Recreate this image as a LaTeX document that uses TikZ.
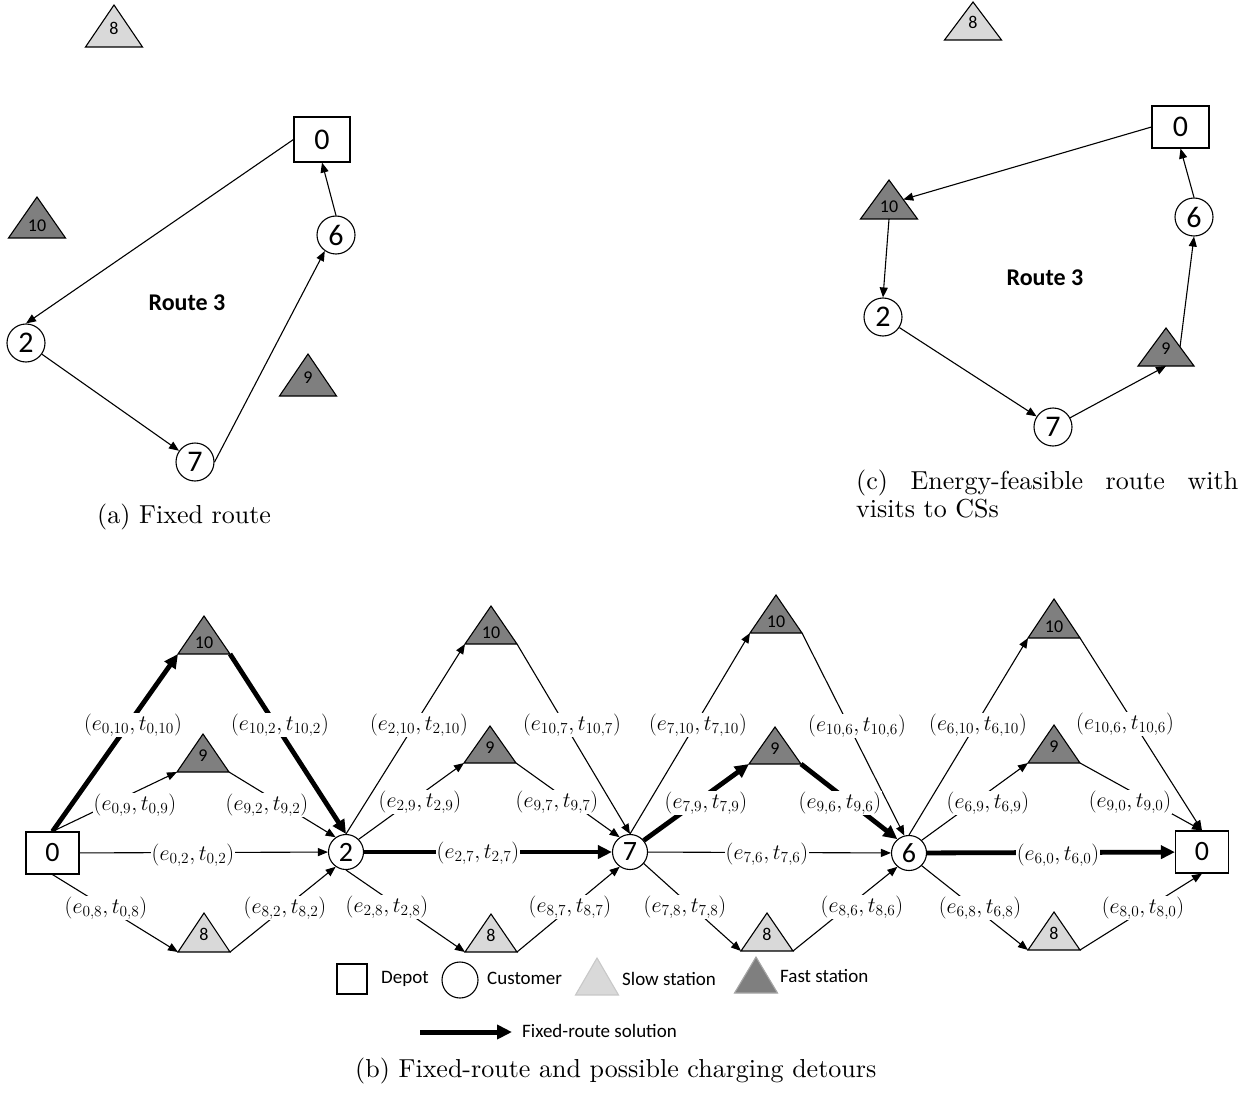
\RequirePackage{fix-cm}
\documentclass[tikz,border=0pt]{standalone}
\usepackage{fontspec}
\newfontfamily\calib{Carlito}
\newfontfamily\capfont{lmroman10-regular.otf}
\usetikzlibrary{calc,arrows.meta}
\definecolor{lightg}{HTML}{D9D9D9}
\definecolor{darkg}{HTML}{7F7F7F}
\definecolor{lightedge}{HTML}{C8C8C8}
\definecolor{darkedge}{HTML}{A6A6A6}
\newcommand\trishape[6]{%
  \node[trihold, minimum width=#5pt, minimum height={#4-#3}] (#1) at (#2,{(#3+#4)/2}) {};
  \filldraw[line width=1.1pt, #6] (#1.south west) -- (#1.north) -- (#1.south east) -- cycle;}
\newcommand\tri[8]{\trishape{#1}{#2}{#3}{#4}{#5}{fill=#6}%
  \node[trilbl] (#1t) at ($(#1.south)!#8!(#1.north)$) {#7};}
\begin{document}
\begin{tikzpicture}[x=1pt,y=-1pt,
  trihold/.style={inner sep=0pt, outer sep=0pt},
  trilbl/.style={inner sep=0pt, font=\calib\fontsize{18}{18}\selectfont},
  depotA/.style={draw, line width=1.1pt, fill=white, minimum width=56pt, minimum height=45pt, inner sep=0pt, font=\calib\fontsize{30}{30}\selectfont},
  depotC/.style={depotA, minimum width=57pt, minimum height=42pt},
  custA/.style={circle, draw, line width=1.1pt, fill=white, minimum size=38pt, inner sep=0pt, font=\calib\fontsize{30}{30}\selectfont},
  depotB/.style={draw, line width=1.1pt, fill=white, minimum width=53pt, minimum height=42pt, inner sep=0pt, font=\calib\fontsize{28}{28}\selectfont},
  custB/.style={circle, draw, line width=1.1pt, fill=white, minimum size=35pt, inner sep=0pt, font=\calib\fontsize{28}{28}\selectfont},
  arr/.style={line width=1.1pt, -{Triangle[length=10pt,width=8pt]}},
  thk/.style={line width=4.8pt, -{Triangle[length=14pt,width=13pt]}},
  lbl/.style={fill=white, inner sep=1pt, font=\fontsize{22}{25}\selectfont},
  route/.style={font=\calib\bfseries\fontsize{24}{24}\selectfont},
  leg/.style={font=\calib\fontsize{19}{19}\selectfont, anchor=west, inner sep=0pt},
  captext/.style={font=\capfont\fontsize{26}{28}\selectfont, inner sep=0pt}]
\useasboundingbox (0,0) rectangle (1257,1099);

% ---------- panel (a)
\node[depotA] (a0) at (322,139.5) {0};
\node[custA] (a6) at (336,235) {6};
\node[custA] (a2) at (26,343) {2};
\node[custA] (a7) at (195,462) {7};
\tri{a8}{114}{5}{47}{57}{lightg}{8}{0.45}
\tri{a10}{37}{197}{238}{57}{darkg}{10}{0.29}
\tri{a9}{308}{354}{396}{57}{darkg}{9}{0.43}
\node[route] (ar) at (187,303) {Route 3};
\draw[arr] (a0.west) -- (a2.north);
\draw[arr] (a2) -- (a7);
\draw[arr] (a7.east) -- (a6.235);
\draw[arr] (a6.north) -- (a0.south);
\node[captext, anchor=west] (capa) at (97,517) {(a) Fixed route};

% ---------- panel (c)
\node[depotC] (c0) at (1180.5,127) {0};
\node[custA] (c6) at (1194,217) {6};
\node[custA] (c2) at (883,317) {2};
\node[custA] (c7) at (1053,427) {7};
\tri{c8}{973}{2}{40}{57}{lightg}{8}{0.45}
\tri{c10}{889}{180}{219}{57}{darkg}{10}{0.31}
\tri{c9}{1166}{328}{366}{56}{darkg}{9}{0.45}
\node[route] (cr) at (1045,278) {Route 3};
\draw[arr] (c0.west) -- ($(c10.north)!0.5!(c10.south east)$);
\draw[arr] (c10.south) -- (c2.north);
\draw[arr] (c2) -- (c7);
\draw[arr] (c7) -- (c9.south);
\draw[arr] ($(c9.north)!0.5!(c9.south east)$) -- (c6.south);
\draw[arr] (c6.north) -- (c0.south);
\node[captext, text width=382pt, align=justify, anchor=north west] (capc) at (856,470)
  {(c) Energy-feasible route with\linebreak visits to CSs};

% ---------- panel (b)
\node[depotB] (b0L) at (52.5,853) {0};
\node[custB] (b2) at (346,852) {2};
\node[custB] (b7) at (630,852) {7};
\node[custB] (b6) at (909,853) {6};
\node[depotB] (b0R) at (1202,852) {0};

\tri{s1t10}{204}{616}{654}{52}{darkg}{10}{0.29}
\tri{s1t9}{203}{734}{772}{52}{darkg}{9}{0.42}
\tri{s1t8}{204}{913}{952}{52}{lightg}{8}{0.44}
\tri{s2t10}{491}{606}{644}{52}{darkg}{10}{0.29}
\tri{s2t9}{490}{726}{763}{52}{darkg}{9}{0.42}
\tri{s2t8}{491}{914}{952}{52}{lightg}{8}{0.44}
\tri{s3t10}{776}{595}{633}{52}{darkg}{10}{0.29}
\tri{s3t9}{775}{727}{764}{52}{darkg}{9}{0.42}
\tri{s3t8}{767}{913}{951}{52}{lightg}{8}{0.44}
\tri{s4t10}{1054}{599}{638}{52}{darkg}{10}{0.29}
\tri{s4t9}{1054}{725}{763}{52}{darkg}{9}{0.42}
\tri{s4t8}{1054}{912}{950}{52}{lightg}{8}{0.44}

% segment 1
\draw[thk] (b0L.north) -- (s1t10.south west);
\draw[thk] (s1t10.south east) -- (b2.north);
\draw[arr] (b0L.north) -- (s1t9.south west);
\draw[arr] (s1t9.south east) -- (b2.125);
\draw[arr] (b0L) -- (b2);
\draw[arr] (b0L.south) -- (s1t8.south west);
\draw[arr] (s1t8.south east) -- (b2.235);
% segment 2
\draw[arr] (b2.north) -- (s2t10.south west);
\draw[arr] (s2t10.south east) -- (b7.north);
\draw[arr] (b2.45) -- (s2t9.south west);
\draw[arr] (s2t9.south east) -- (b7.125);
\draw[thk] (b2) -- (b7);
\draw[arr] (b2.south) -- (s2t8.south west);
\draw[arr] (s2t8.south east) -- (b7.235);
% segment 3
\draw[arr] (b7.north) -- (s3t10.south west);
\draw[arr] (s3t10.south east) -- (b6.105);
\draw[thk] (b7.40) -- (s3t9.south west);
\draw[thk] (s3t9.south east) -- (b6.130);
\draw[arr] (b7) -- (b6);
\draw[arr] (b7.-40) -- (s3t8.south west);
\draw[arr] (s3t8.south east) -- (b6.230);
% segment 4
\draw[arr] (b6.north) -- (s4t10.south west);
\draw[arr] (s4t10.south east) -- (b0R.north);
\draw[arr] (b6.45) -- (s4t9.south west);
\draw[arr] (s4t9.south east) -- (b0R.north);
\draw[thk] (b6) -- (b0R);
\draw[arr] (b6.-45) -- (s4t8.south west);
\draw[arr] (s4t8.south east) -- (b0R.south);

% edge labels
\node[lbl] (l0-10) at (133,725) {$(e_{0,10},t_{0,10})$};
\node[lbl] (l10-2) at (280,725) {$(e_{10,2},t_{10,2})$};
\node[lbl] (l0-9) at (135,805) {$(e_{0,9},t_{0,9})$};
\node[lbl] (l9-2) at (267,805) {$(e_{9,2},t_{9,2})$};
\node[lbl] (l0-2) at (193,855) {$(e_{0,2},t_{0,2})$};
\node[lbl] (l0-8) at (106,908) {$(e_{0,8},t_{0,8})$};
\node[lbl] (l8-2) at (285,908) {$(e_{8,2},t_{8,2})$};

\node[lbl] (l2-10) at (419,725) {$(e_{2,10},t_{2,10})$};
\node[lbl] (l10-7) at (572,725) {$(e_{10,7},t_{10,7})$};
\node[lbl] (l2-9) at (420,802) {$(e_{2,9},t_{2,9})$};
\node[lbl] (l9-7) at (557,802) {$(e_{9,7},t_{9,7})$};
\node[lbl] (l2-7) at (478,853) {$(e_{2,7},t_{2,7})$};
\node[lbl] (l2-8) at (387,907) {$(e_{2,8},t_{2,8})$};
\node[lbl] (l8-7) at (570,907) {$(e_{8,7},t_{8,7})$};

\node[lbl] (l7-10) at (698,725) {$(e_{7,10},t_{7,10})$};
\node[lbl] (l10-6) at (857,726) {$(e_{10,6},t_{10,6})$};
\node[lbl] (l7-9) at (706,803) {$(e_{7,9},t_{7,9})$};
\node[lbl] (l9-6) at (840,803) {$(e_{9,6},t_{9,6})$};
\node[lbl] (l7-6) at (767,854) {$(e_{7,6},t_{7,6})$};
\node[lbl] (l7-8) at (685,907) {$(e_{7,8},t_{7,8})$};
\node[lbl] (l8-6) at (862,907) {$(e_{8,6},t_{8,6})$};

\node[lbl] (l6-10) at (978,725) {$(e_{6,10},t_{6,10})$};
\node[lbl] (l10-0) at (1125,724) {$(e_{10,6},t_{10,6})$};
\node[lbl] (l6-9) at (988,803) {$(e_{6,9},t_{6,9})$};
\node[lbl] (l9-0) at (1130,802) {$(e_{9,0},t_{9,0})$};
\node[lbl] (l6-0) at (1058,855) {$(e_{6,0},t_{6,0})$};
\node[lbl] (l6-8) at (980,908) {$(e_{6,8},t_{6,8})$};
\node[lbl] (l8-0) at (1143,908) {$(e_{8,0},t_{8,0})$};

% legend
\node[draw, line width=1.1pt, minimum size=30pt, inner sep=0pt] (lgdepot) at (352,979) {};
\node[leg] (lgdepott) at (381,979) {Depot};
\node[circle, draw, line width=1.1pt, minimum size=36pt, inner sep=0pt] (lgcust) at (460,980) {};
\node[leg] (lgcustt) at (487,978) {Customer};
\trishape{lgslow}{597}{958}{995}{43}{fill=lightg,draw=lightedge}
\node[leg] (lgslowt) at (622,979) {Slow station};
\trishape{lgfast}{756}{957}{993}{43}{fill=darkg,draw=darkedge}
\node[leg] (lgfastt) at (780,976) {Fast station};
\coordinate (lgarrA) at (420,1032);
\coordinate (lgarrB) at (512,1032);
\draw[line width=5pt, -{Triangle[length=15pt,width=14pt]}] (lgarrA) -- (lgarrB);
\node[leg] (lgarrt) at (522,1031) {Fixed-route solution};

\node[captext, anchor=west] (capb) at (355,1071) {(b) Fixed-route and possible charging detours};
\end{tikzpicture}
\end{document}
